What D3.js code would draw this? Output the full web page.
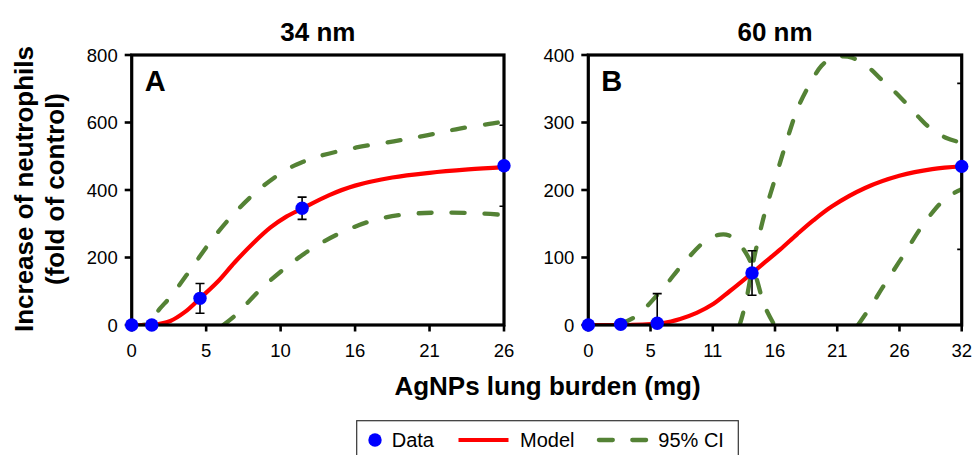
<!DOCTYPE html>
<html><head><meta charset="utf-8">
<script src="https://cdn.jsdelivr.net/npm/d3@7"></script>
<style>
body{margin:0;background:#fff}
svg{display:block}
text{font-family:"Liberation Sans",Arial,sans-serif;fill:#000}
</style>
</head><body>
<svg id="chart" width="972" height="455"></svg>
<script>
// ---------- data ----------
const panelTitles = ["34 nm", "60 nm"];
const panelLetters = ["A", "B"];
const xMaxA = 26, xMaxB = 31.7;
const yMaxA = 800, yMaxB = 400;
const yTicksA = [0, 200, 400, 600, 800];
const yTicksB = [0, 100, 200, 300, 400];
const xTickLabelsA = ["0", "5", "10", "16", "21", "26"];
const xTickLabelsB = ["0", "5", "11", "16", "21", "26", "32"];

const dataAx = [0, 1.4, 4.77, 11.9, 26];
const dataAy = [0, 0, 79, 346, 472];
const dataAerr = [0, 0, 44, 33, 120];

const dataBx = [0, 2.75, 5.85, 13.9, 31.7];
const dataBy = [0, 1, 2.5, 77, 235];
const dataBerr = [0, 0, 44, 33, 123];

const modelA = [[0,0],[1.4,0],[2.7,12],[3.7,38],[4.77,79],[6.0,128],[7.2,186],[8.5,243],[9.7,289],[10.8,321],[11.9,345],[13.8,385],[15.6,413],[18.2,437],[20.8,451],[23.5,461],[26,468]];
const ciUpperA = [[0,0],[1.05,3],[1.98,49],[2.79,88],[4.07,162],[5.59,252],[7.21,333],[8.96,404],[10.8,460],[12.0,484],[13.15,501],[15.7,526],[18.3,544],[20.6,562],[22.9,582],[25.7,601],[26,604]];
const ciLowerA = [[6.4,0],[7.33,32],[8.96,104],[10.9,175],[12.8,232],[15.0,281],[17.3,315],[19.7,330],[22.0,333],[24.55,330],[26,326]];

const modelB = [[0,0],[3.5,0],[6.37,3],[7.8,9],[9.2,18],[10.6,31],[12.0,50],[13.9,77],[15.0,93],[16.3,112],[17.7,134],[19.1,155],[20.7,176],[23.5,203],[26.4,221],[29.2,231],[31.7,235]];
const ciHumpB = [[0,0],[2.2,0],[3.96,12],[6.23,52],[8.06,91],[10.05,126],[11.2,134],[11.9,133],[12.88,119],[13.87,90],[15.0,27],[15.8,0]];
const ciPeakB = [[12.85,0],[13.1,15],[13.5,45],[14.0,93],[14.5,132],[15.0,167],[16.27,240],[17.1,287],[17.8,322],[19.0,363],[19.8,384],[20.6,395],[21.4,398],[22.4,396],[23.9,380],[24.8,365],[26,346],[27,328],[28,309],[29,292],[30.4,277],[31.7,270]];
const ciLowB = [[22.9,0],[24.0,28],[25.0,56],[26.0,83],[27.0,110],[28.0,138],[29.0,162],[30.0,182],[31.0,195],[31.7,201]];

const legendLabels = ["Data", "Model", "95% CI"];
const xAxisTitle = "AgNPs lung burden (mg)";
const yAxisTitle = ["Increase of neutrophils", "(fold of control)"];

// ---------- style ----------
const BLUE = "#0000FF", RED = "#FF0000", GREEN = "#548235";
const svg = d3.select("#chart");
const plotTop = 55, plotBottom = 325;

const panels = [
  {id:"A", x0:131.7, x1:504, xMax:xMaxA, yMax:yMaxA, yTicks:yTicksA, xLabels:xTickLabelsA,
   title:panelTitles[0], letter:panelLetters[0], dx:dataAx, dy:dataAy, de:dataAerr,
   model:modelA, ci:[ciUpperA, ciLowerA]},
  {id:"B", x0:588.3, x1:961.7, xMax:xMaxB, yMax:yMaxB, yTicks:yTicksB, xLabels:xTickLabelsB,
   title:panelTitles[1], letter:panelLetters[1], dx:dataBx, dy:dataBy, de:dataBerr,
   model:modelB, ci:[ciHumpB, ciPeakB, ciLowB]}
];

const defs = svg.append("defs");

panels.forEach(p => {
  const x = d3.scaleLinear().domain([0, p.xMax]).range([p.x0, p.x1]);
  const y = d3.scaleLinear().domain([0, p.yMax]).range([plotBottom, plotTop]);
  const g = svg.append("g");

  defs.append("clipPath").attr("id", "clip" + p.id)
    .append("rect").attr("x", p.x0).attr("y", plotTop).attr("width", p.x1 - p.x0).attr("height", plotBottom - plotTop);

  const line = d3.line().x(d => x(d[0])).y(d => y(d[1])).curve(d3.curveCatmullRom.alpha(0.5));
  const inner = g.append("g").attr("clip-path", `url(#clip${p.id})`);

  p.ci.forEach(c => {
    inner.append("path").attr("d", line(c)).attr("fill", "none")
      .attr("stroke", GREEN).attr("stroke-width", 4.3)
      .attr("stroke-dasharray", "13,20").attr("stroke-linecap", "round");
  });
  inner.append("path").attr("d", line(p.model)).attr("fill", "none")
    .attr("stroke", RED).attr("stroke-width", 4.2);

  // error bars
  p.dx.forEach((vx, i) => {
    const e = p.de[i];
    if (!e) return;
    const cx = x(vx), yt = y(p.dy[i] + e), yb = y(p.dy[i] - e);
    const eb = inner.append("g").attr("stroke", "#000").attr("stroke-width", 1.6);
    eb.append("line").attr("x1", cx).attr("x2", cx).attr("y1", yt).attr("y2", yb);
    eb.append("line").attr("x1", cx - 4.5).attr("x2", cx + 4.5).attr("y1", yt).attr("y2", yt);
    eb.append("line").attr("x1", cx - 4.5).attr("x2", cx + 4.5).attr("y1", yb).attr("y2", yb);
  });

  // frame
  g.append("rect").attr("x", p.x0).attr("y", plotTop).attr("width", p.x1 - p.x0).attr("height", plotBottom - plotTop)
    .attr("fill", "none").attr("stroke", "#000").attr("stroke-width", 3.2);

  // y ticks
  p.yTicks.forEach(t => {
    g.append("line").attr("x1", p.x0 - 7).attr("x2", p.x0).attr("y1", y(t)).attr("y2", y(t))
      .attr("stroke", "#000").attr("stroke-width", 2.6);
    g.append("text").attr("x", p.x0 - 14).attr("y", y(t)).attr("dy", "0.36em")
      .attr("text-anchor", "end").attr("font-size", 18.5).text(t);
  });
  // x ticks (evenly spaced over the domain)
  const n = p.xLabels.length;
  p.xLabels.forEach((lab, i) => {
    const v = i * p.xMax / (n - 1);
    g.append("line").attr("x1", x(v)).attr("x2", x(v)).attr("y1", plotBottom).attr("y2", plotBottom + 6.5)
      .attr("stroke", "#000").attr("stroke-width", 2.6);
    g.append("text").attr("x", x(v)).attr("y", 356.5).attr("text-anchor", "middle")
      .attr("font-size", 18.5).text(lab);
  });

  // points
  p.dx.forEach((vx, i) => {
    g.append("circle").attr("cx", x(vx)).attr("cy", y(p.dy[i])).attr("r", 6.7).attr("fill", BLUE);
  });

  // title & letter
  g.append("text").attr("x", (p.x0 + p.x1) / 2).attr("y", 41).attr("text-anchor", "middle")
    .attr("font-size", 26).attr("font-weight", "bold").text(p.title);
  g.append("text").attr("x", p.x0 + 13).attr("y", 90.5)
    .attr("font-size", 29).attr("font-weight", "bold").text(p.letter);
});

// axis titles
svg.append("text").attr("x", 547.5).attr("y", 395).attr("text-anchor", "middle")
  .attr("font-size", 26).attr("font-weight", "bold").text(xAxisTitle);
yAxisTitle.forEach((t, i) => {
  svg.append("text").attr("transform", `translate(${33 + i * 31},189) rotate(-90)`)
    .attr("text-anchor", "middle").attr("font-size", 26).attr("font-weight", "bold").text(t);
});

// legend
const lg = svg.append("g");
lg.append("rect").attr("x", 356.7).attr("y", 420.7).attr("width", 381.6).attr("height", 45)
  .attr("fill", "#fff").attr("stroke", "#333").attr("stroke-width", 1.2);
lg.append("circle").attr("cx", 375).attr("cy", 440).attr("r", 6.7).attr("fill", BLUE);
lg.append("text").attr("x", 391.7).attr("y", 447.3).attr("font-size", 20).text(legendLabels[0]);
lg.append("line").attr("x1", 458.5).attr("x2", 508.5).attr("y1", 440).attr("y2", 440)
  .attr("stroke", RED).attr("stroke-width", 4.2);
lg.append("text").attr("x", 520).attr("y", 447.3).attr("font-size", 20).text(legendLabels[1]);
lg.append("line").attr("x1", 598.9).attr("x2", 646.1).attr("y1", 440).attr("y2", 440)
  .attr("stroke", GREEN).attr("stroke-width", 4.3).attr("stroke-linecap", "round")
  .attr("stroke-dasharray", "13.9,19.5");
lg.append("text").attr("x", 658.3).attr("y", 447.3).attr("font-size", 20).text(legendLabels[2]);
</script>
</body></html>
